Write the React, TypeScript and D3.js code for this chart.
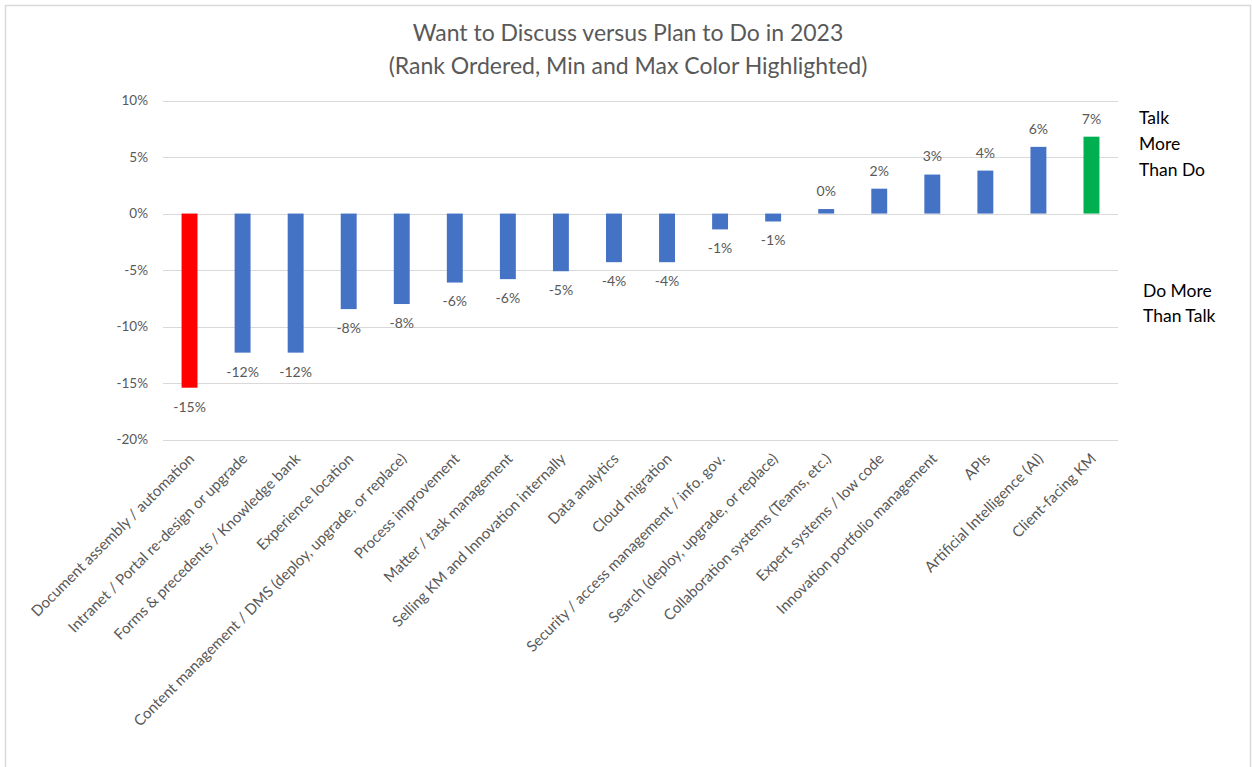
import React from "react";
import * as d3 from "d3";

const categories: string[] = [
  "Document assembly / automation",
  "Intranet / Portal re-design or upgrade",
  "Forms & precedents / Knowledge bank",
  "Experience location",
  "Content management / DMS (deploy, upgrade, or replace)",
  "Process improvement",
  "Matter / task management",
  "Selling KM and Innovation internally",
  "Data analytics",
  "Cloud migration",
  "Security / access management / info. gov.",
  "Search (deploy, upgrade, or replace)",
  "Collaboration systems (Teams, etc.)",
  "Expert systems / low code",
  "Innovation portfolio management",
  "APIs",
  "Artificial Intelligence (AI)",
  "Client-facing KM",
];

// Percentage points: Want to Discuss minus Plan to Do
const values: number[] = [
  -15.4, -12.3, -12.3, -8.45, -8.0, -6.1, -5.8, -5.1, -4.3, -4.3, -1.4, -0.7,
  0.4, 2.2, 3.45, 3.8, 5.9, 6.8,
];

const yTicks: number[] = [10, 5, 0, -5, -10, -15, -20];

const titleLines: string[] = [
  "Want to Discuss versus Plan to Do in 2023",
  "(Rank Ordered, Min and Max Color Highlighted)",
];

const upperNote: string[] = ["Talk", "More", "Than Do"];
const lowerNote: string[] = ["Do More", "Than Talk"];

const W = 1252;
const H = 767;
const FONT = "Lato, 'Open Sans', sans-serif";
const GRAY = "#595959";

export default function App() {
  const x = d3
    .scaleBand<string>()
    .domain(categories)
    .range([163, 1118])
    .paddingInner(0.7)
    .paddingOuter(0.35);
  const y = d3.scaleLinear().domain([-20, 10]).range([439.7, 100.5]);
  const d3fmt = d3.format(".0%");
  const fmt = (v: number) => d3fmt(v).replace("\u2212", "-");
  const minV = d3.min(values)!;
  const maxV = d3.max(values)!;
  const color = (v: number) =>
    v === minV ? "#FF0000" : v === maxV ? "#00B050" : "#4472C4";

  return (
    <svg
      width={W}
      height={H}
      style={{ position: "absolute", left: 0, top: 0, background: "#fff" }}
      fontFamily={FONT}
    >
      <rect x={5.5} y={5.5} width={1245} height={H} fill="#fff" stroke="#d9d9d9" strokeWidth={1.5} />
      {titleLines.map((t, i) => (
        <text
          key={t}
          x={628}
          y={33 + i * 33}
          dy="0.35em"
          textAnchor="middle"
          fontSize={23}
          fill={GRAY}
        >
          {t}
        </text>
      ))}
      {yTicks.map((t) => (
        <g key={t}>
          <line
            x1={163}
            x2={1118}
            y1={Math.round(y(t)) + 0.5}
            y2={Math.round(y(t)) + 0.5}
            stroke="#d9d9d9"
            strokeWidth={1.2}
          />
          <text
            x={148}
            y={y(t)}
            dy="0.35em"
            textAnchor="end"
            fontSize={13.5}
            fill={GRAY}
          >
            {fmt(t / 100)}
          </text>
        </g>
      ))}
      {categories.map((c, i) => {
        const v = values[i];
        const cx = x(c)! + x.bandwidth() / 2;
        const y0 = y(0);
        const y1 = y(v);
        return (
          <g key={c}>
            <rect
              x={x(c)}
              y={Math.min(y0, y1)}
              width={x.bandwidth()}
              height={Math.abs(y1 - y0)}
              fill={color(v)}
            />
            <text
              x={cx}
              y={v < 0 ? y1 + 19 : y1 - 18}
              dy="0.35em"
              textAnchor="middle"
              fontSize={14}
              fill={GRAY}
            >
              {fmt(v / 100)}
            </text>
            <text
              transform={`translate(${cx + 2},${456}) rotate(-45)`}
              dy="0.35em"
              textAnchor="end"
              fontSize={15}
              fill={GRAY}
            >
              {c}
            </text>
          </g>
        );
      })}
      {upperNote.map((t, i) => (
        <text key={t} x={1139} y={118 + i * 26} dy="0.35em" fontSize={17.5} fill="#000">
          {t}
        </text>
      ))}
      {lowerNote.map((t, i) => (
        <text key={t} x={1143} y={291 + i * 25} dy="0.35em" fontSize={17.5} fill="#000">
          {t}
        </text>
      ))}
    </svg>
  );
}
